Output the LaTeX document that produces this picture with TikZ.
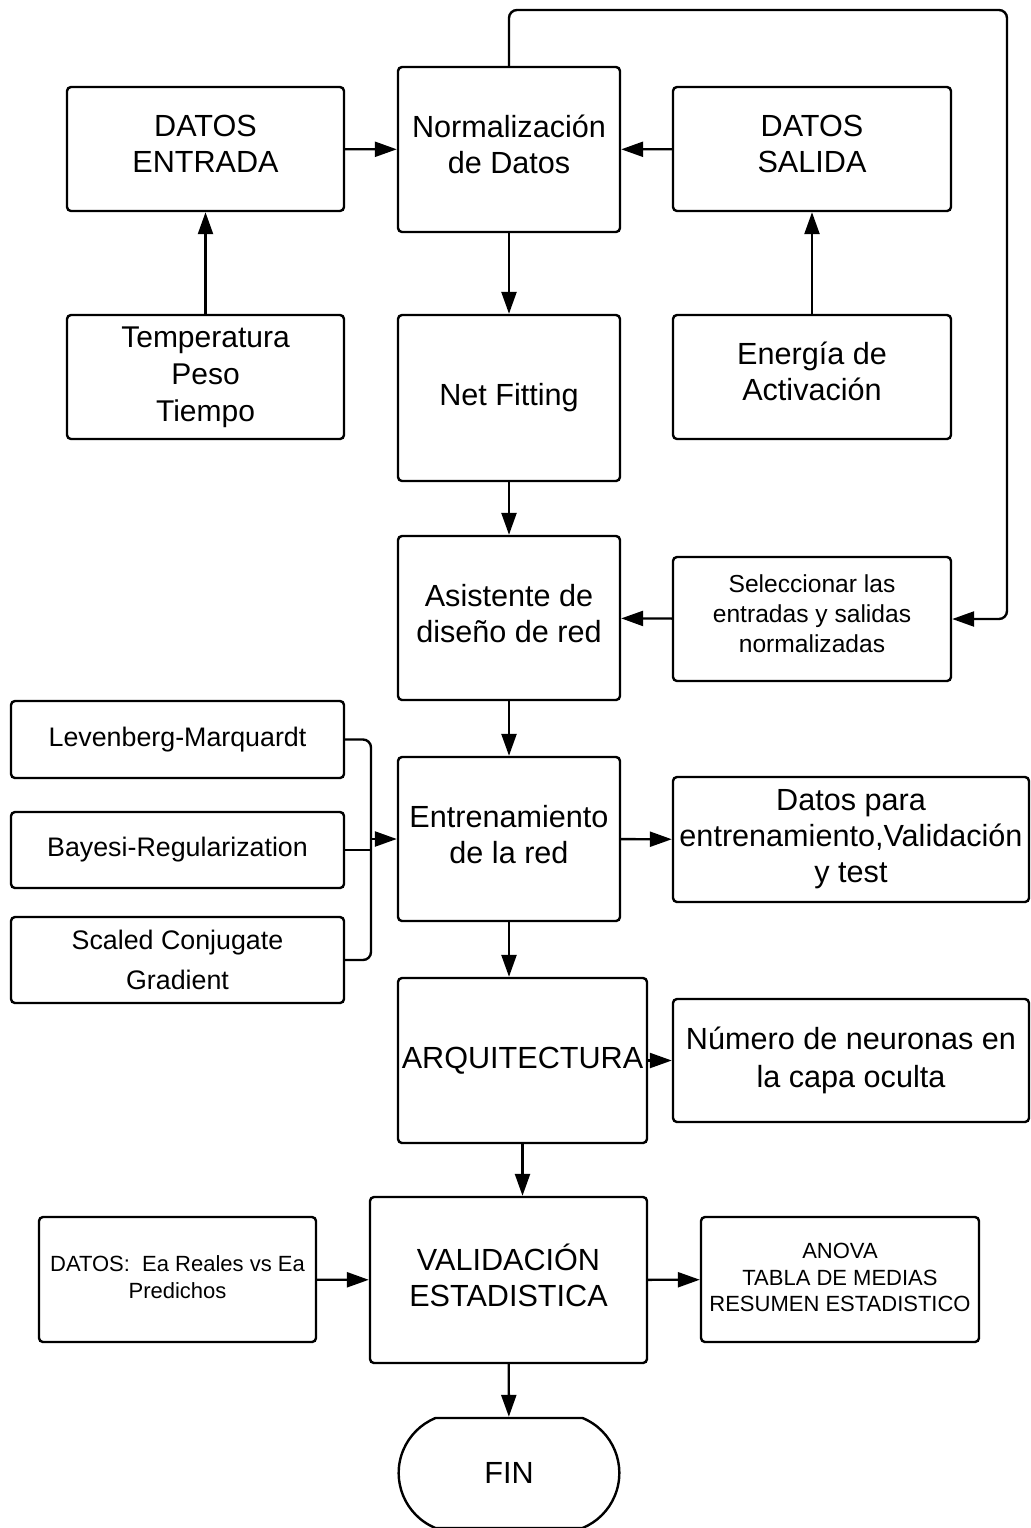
\documentclass[tikz,border=0pt]{standalone}
\usepackage{fontspec}
\setmainfont{Liberation Sans}
\usetikzlibrary{arrows.meta,shapes.misc}

\tikzset{
  caja/.style={draw, line width=1.2pt, rounded corners=2pt, align=center, inner sep=2pt},
  sz/.style 2 args={minimum width=#1*0.5pt, minimum height=#2*0.5pt},
  grande/.style={font=\fontsize{15.3}{18}\selectfont},
  chica/.style={font=\fontsize{12.3}{15}\selectfont},
  arriba/.style={text depth=5pt},
  flecha/.style={line width=1.2pt, -{Triangle[length=11pt,width=7.5pt]}},
  linea/.style={line width=1.2pt}
}

\begin{document}
\begin{tikzpicture}[x=0.5pt,y=-0.5pt]
  \useasboundingbox (0,0) rectangle (1031,1528);

  % Fila superior
  \node[caja, grande, arriba, sz={222}{165}] (norm) at (509,149.5) {Normalización\\de Datos};
  \node[caja, grande, arriba, sz={277}{124}] (din) at (205.5,149) {DATOS\\ENTRADA};
  \node[caja, grande, arriba, sz={278}{124}] (dout) at (812,149) {DATOS\\SALIDA};

  \node[caja, grande, sz={277}{124}, font=\fontsize{15}{18.5}\selectfont] (vars) at (205.5,377) {Temperatura\\Peso\\Tiempo};
  \node[caja, grande, sz={222}{166}] (fit) at (509,398) {Net Fitting};
  \node[caja, grande, sz={278}{124}, text depth=6pt] (energ) at (812,377) {Energía de\\Activación};

  % Asistente y seleccion
  \node[caja, grande, arriba, sz={222}{164}] (asis) at (509,618) {Asistente de\\diseño de red};
  \node[caja, chica, arriba, sz={278}{124}] (sel) at (812,619) {Seleccionar las\\entradas y salidas\\normalizadas};

  % Entrenamiento
  \node[caja, grande, arriba, sz={222}{164}] (train) at (509,839) {Entrenamiento\\de la red};
  \node[caja, font=\fontsize{13.4}{15}\selectfont, sz={333}{77}] (lm) at (177.5,739.5) {Levenberg-Marquardt};
  \node[caja, font=\fontsize{13.4}{15}\selectfont, sz={333}{76}] (br) at (177.5,850) {Bayesi-Regularization};
  \node[caja, font=\fontsize{13.4}{20}\selectfont, sz={333}{86}] (scg) at (177.5,960) {Scaled Conjugate\\Gradient};
  \node[caja, grande, sz={356}{125}] (split) at (851,839.5) {Datos para\\entrenamiento,Validación\\y test};

  % Arquitectura
  \node[caja, grande, sz={249}{165}, inner sep=1pt] (arch) at (522.5,1060.5) {ARQUITECTURA};
  \node[caja, font=\fontsize{15.3}{19}\selectfont, sz={356}{123}] (neur) at (851,1060.5) {Número de neuronas en\\la capa oculta};

  % Validacion
  \node[caja, grande, arriba, sz={277}{166}] (valid) at (508.5,1280) {VALIDACIÓN\\ESTADISTICA};
  \node[caja, font=\fontsize{11}{13.5}\selectfont, sz={277}{125}, text depth=2pt] (ea) at (177.5,1279.5) {DATOS:\ \ Ea Reales vs Ea\\Predichos};
  \node[caja, font=\fontsize{11}{13.3}\selectfont, sz={278}{125}, text depth=2pt] (anova) at (840,1279.5) {ANOVA\\TABLA DE MEDIAS\\RESUMEN ESTADISTICO};

  \node[draw, line width=1.2pt, rounded rectangle, rounded rectangle arc length=135, grande, sz={234}{110}] (fin) at (509,1473) {FIN};

  % Conectores
  \draw[flecha] (din) -- (norm);
  \draw[flecha] (dout) -- (norm);
  \draw[flecha] (vars) -- (din);
  \draw[flecha] (energ) -- (dout);
  \draw[flecha] (norm) -- (fit);
  \draw[flecha] (fit) -- (asis);
  \draw[flecha] (sel) -- (asis);
  \draw[flecha] (asis) -- (train);
  \draw[flecha] (train) -- (split);
  \draw[flecha] (train) -- (train.south |- arch.north);
  \draw[flecha] (arch.east) -- (arch.east -| neur.west);
  \draw[flecha] (arch.south) -- (arch.south |- valid.north);
  \draw[flecha] (ea) -- (valid);
  \draw[flecha] (valid) -- (anova);
  \draw[flecha] (valid) -- (fin);

  % Lazo de retorno
  \coordinate (lazo) at (1007,10);
  \draw[flecha, rounded corners=4pt] (norm.north) |- (lazo) |- (sel.east);

  % Metodos de entrenamiento
  \coordinate (bus) at (371,839);
  \draw[linea, rounded corners=4pt] (lm.east) -| (bus) |- (scg.east);
  \draw[linea] (br.east) -- (br.east -| bus);
  \draw[flecha] (bus) -- (train.west);
\end{tikzpicture}
\end{document}
